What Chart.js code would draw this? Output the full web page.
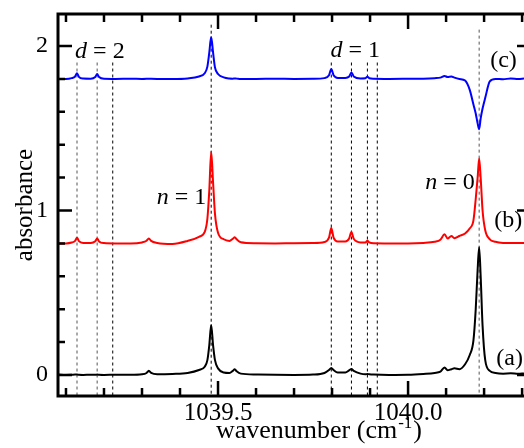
<!DOCTYPE html>
<html>
<head>
<meta charset="utf-8">
<script src="https://cdn.jsdelivr.net/npm/chart.js@4.4.1/dist/chart.umd.min.js"></script>
<style>
    html, body { margin: 0; padding: 0; background: #fff; }
    canvas { display: block; }
</style>
</head>
<body>
<canvas id="spectraChart" width="524" height="448"></canvas>
<script>
// --- data ---
const wavenumber = [
    1039.079, 1039.100, 1039.115, 1039.124, 1039.129, 1039.134, 1039.145, 1039.165,
    1039.177, 1039.182, 1039.187, 1039.200, 1039.230, 1039.270, 1039.300, 1039.312,
    1039.318, 1039.324, 1039.340, 1039.380, 1039.420, 1039.450, 1039.465, 1039.472,
    1039.477, 1039.482, 1039.487, 1039.492, 1039.500, 1039.515, 1039.530, 1039.539,
    1039.544, 1039.549, 1039.560, 1039.600, 1039.650, 1039.700, 1039.750, 1039.780,
    1039.792, 1039.798, 1039.804, 1039.815, 1039.835, 1039.845, 1039.851, 1039.857,
    1039.875, 1039.888, 1039.893, 1039.898, 1039.910, 1039.950, 1040.000, 1040.040,
    1040.070, 1040.085, 1040.096, 1040.104, 1040.114, 1040.122, 1040.135, 1040.150,
    1040.162, 1040.172, 1040.178, 1040.183, 1040.187, 1040.191, 1040.196, 1040.203,
    1040.215, 1040.230, 1040.250, 1040.270, 1040.290, 1040.305
];

// (a) black trace
const absorbanceA = [
    0.002, 0.000, 0.001, 0.002, 0.002, 0.001, 0.000, 0.001,
    0.001, 0.002, 0.001, 0.000, 0.001, 0.001, 0.004, 0.012,
    0.025, 0.012, 0.004, 0.006, 0.012, 0.030, 0.050, 0.090,
    0.180, 0.304, 0.180, 0.090, 0.040, 0.015, 0.012, 0.025,
    0.035, 0.022, 0.008, 0.003, 0.001, 0.000, 0.002, 0.012,
    0.030, 0.043, 0.030, 0.015, 0.015, 0.028, 0.036, 0.025,
    0.008, 0.004, 0.006, 0.004, 0.002, 0.000, 0.001, 0.006,
    0.012, 0.020, 0.045, 0.028, 0.035, 0.040, 0.035, 0.065,
    0.120, 0.210, 0.400, 0.640, 0.776, 0.600, 0.300, 0.090,
    0.025, 0.012, 0.008, 0.010, 0.007, 0.009
];

// (b) red trace
const absorbanceB = [
    0.800, 0.800, 0.805, 0.815, 0.835, 0.814, 0.803, 0.803,
    0.813, 0.830, 0.812, 0.802, 0.800, 0.800, 0.806, 0.816,
    0.830, 0.815, 0.803, 0.797, 0.815, 0.840, 0.870, 0.950,
    1.120, 1.357, 1.170, 0.980, 0.865, 0.825, 0.815, 0.828,
    0.837, 0.825, 0.807, 0.801, 0.800, 0.801, 0.802, 0.808,
    0.835, 0.894, 0.835, 0.812, 0.812, 0.830, 0.870, 0.828,
    0.806, 0.806, 0.816, 0.806, 0.801, 0.800, 0.800, 0.803,
    0.810, 0.822, 0.855, 0.830, 0.845, 0.832, 0.845, 0.860,
    0.890, 0.940, 1.070, 1.200, 1.317, 1.200, 1.000, 0.880,
    0.825, 0.810, 0.803, 0.802, 0.803, 0.802
];

// (c) blue trace
const absorbanceC = [
    1.800, 1.800, 1.805, 1.815, 1.835, 1.813, 1.803, 1.802,
    1.812, 1.830, 1.812, 1.801, 1.800, 1.801, 1.800, 1.801,
    1.802, 1.801, 1.800, 1.800, 1.803, 1.815, 1.835, 1.875,
    1.960, 2.055, 1.960, 1.870, 1.830, 1.810, 1.803, 1.802,
    1.803, 1.802, 1.800, 1.800, 1.801, 1.800, 1.801, 1.805,
    1.822, 1.860, 1.822, 1.806, 1.806, 1.815, 1.840, 1.815,
    1.803, 1.804, 1.814, 1.804, 1.801, 1.800, 1.801, 1.802,
    1.805, 1.808, 1.818, 1.812, 1.815, 1.808, 1.800, 1.790,
    1.735, 1.645, 1.590, 1.530, 1.494, 1.560, 1.620, 1.685,
    1.785, 1.800, 1.798, 1.803, 1.799, 1.803
];

// dashed guide lines
const guidePositions = [1039.129, 1039.182, 1039.223, 1039.482, 1039.798, 1039.851, 1039.893, 1039.919, 1040.187];
const guideTops = [1.90, 1.90, 1.90, 2.13, 1.90, 1.90, 1.90, 1.90, 2.10];
const guideColors = ["#555", "#555", "#000", "#000", "#000", "#000", "#000", "#000", "#555"];

// axes
const xRange = [1039.079, 1040.305];
const yRange = [-0.128, 2.195];
const xTicks = [1039.5, 1040.0];
const yTicks = [0, 1, 2];

// annotations
const noteItalic = ["d", "d", "n", "n", "", "", ""];
const noteText = [" = 2", " = 1", " = 1", " = 0", "(c)", "(b)", "(a)"];
const noteX = [1039.124, 1039.796, 1039.339, 1040.045, 1040.216, 1040.227, 1040.232];
const noteY = [1.925, 1.931, 1.040, 1.129, 1.874, 0.898, 0.061];

const serif = "'Liberation Serif', 'Times New Roman', serif";

function toPoints(ys) {
    return wavenumber.map((x, i) => ({ x: x, y: ys[i] }));
}

// frame with inward ticks, x title with superscript, and the text labels
const spectraFrame = {
    id: "spectraFrame",
    afterDraw(chart) {
        const ctx = chart.ctx;
        const area = chart.chartArea;
        const x = chart.scales.x;
        const y = chart.scales.y;
        ctx.save();
        ctx.strokeStyle = "#000";
        ctx.lineWidth = 3;
        ctx.beginPath();
        ctx.moveTo(area.left, area.top);
        ctx.lineTo(area.right, area.top);
        ctx.moveTo(area.left, area.top - 1.5);
        ctx.lineTo(area.left, area.bottom + 1.5);
        ctx.moveTo(area.left, area.bottom);
        ctx.lineTo(area.right, area.bottom);
        ctx.stroke();

        ctx.lineWidth = 2.5;
        ctx.beginPath();
        for (let k = Math.ceil(xRange[0] * 10); k <= Math.floor(xRange[1] * 10); k++) {
            const px = x.getPixelForValue(k / 10);
            const len = k % 5 === 0 ? 15 : 8;
            ctx.moveTo(px, area.bottom);
            ctx.lineTo(px, area.bottom - len);
            ctx.moveTo(px, area.top);
            ctx.lineTo(px, area.top + len);
        }
        for (let k = Math.ceil(yRange[0] * 5); k <= Math.floor(yRange[1] * 5); k++) {
            const py = y.getPixelForValue(k / 5);
            const major = k % 5 === 0;
            ctx.moveTo(area.left, py);
            ctx.lineTo(area.left + (major ? 14 : 7), py);
            if (major) {
                ctx.moveTo(area.right - 7, py);
                ctx.lineTo(area.right, py);
            }
        }
        ctx.stroke();

        // x title: wavenumber (cm^-1)
        ctx.fillStyle = "#000";
        ctx.textBaseline = "alphabetic";
        ctx.textAlign = "left";
        const big = "26px " + serif;
        const small = "17px " + serif;
        const partA = "wavenumber (cm";
        const partB = "-1";
        const partC = ")";
        ctx.font = big;
        const wA = ctx.measureText(partA).width;
        const wC = ctx.measureText(partC).width;
        ctx.font = small;
        const wB = ctx.measureText(partB).width;
        const total = wA + wB + wC + 2;
        let tx = (area.left + area.right) / 2 + 28 - total / 2;
        const ty = 438;
        ctx.font = big;
        ctx.fillText(partA, tx, ty);
        tx += wA + 1;
        ctx.font = small;
        ctx.fillText(partB, tx, ty - 10);
        tx += wB + 1;
        ctx.font = big;
        ctx.fillText(partC, tx, ty);

        // annotations
        for (let i = 0; i < noteText.length; i++) {
            let nx = x.getPixelForValue(noteX[i]);
            const ny = y.getPixelForValue(noteY[i]);
            if (noteItalic[i]) {
                ctx.font = "italic 24px " + serif;
                ctx.fillText(noteItalic[i], nx, ny);
                nx += ctx.measureText(noteItalic[i]).width;
            }
            ctx.font = "24px " + serif;
            ctx.fillText(noteText[i], nx, ny);
        }
        ctx.restore();
    }
};

document.addEventListener("DOMContentLoaded", function () {
    const ctxSpectra = document.getElementById("spectraChart");

    const guideSets = guidePositions.map((pos, i) => ({
        data: [{ x: pos, y: guideTops[i] }, { x: pos, y: yRange[0] }],
        borderColor: guideColors[i],
        borderWidth: 1,
        borderDash: [3, 3],
        pointRadius: 0,
        fill: false,
    }));

    new Chart(ctxSpectra, {
        type: "line",
        data: {
            datasets: [
                {
                    label: "(a)",
                    data: toPoints(absorbanceA),
                    borderColor: "#000000",
                    borderWidth: 2,
                    pointRadius: 0,
                    cubicInterpolationMode: "monotone",
                },
                {
                    label: "(b)",
                    data: toPoints(absorbanceB),
                    borderColor: "#ff0000",
                    borderWidth: 2,
                    pointRadius: 0,
                    cubicInterpolationMode: "monotone",
                },
                {
                    label: "(c)",
                    data: toPoints(absorbanceC),
                    borderColor: "#0000ff",
                    borderWidth: 2,
                    pointRadius: 0,
                    cubicInterpolationMode: "monotone",
                },
            ].concat(guideSets),
        },
        options: {
            responsive: false,
            animation: false,
            events: [],
            layout: { padding: { top: 14, right: 0, bottom: 0, left: 0 } },
            plugins: {
                legend: { display: false },
                tooltip: { enabled: false },
            },
            scales: {
                x: {
                    type: "linear",
                    min: xRange[0],
                    max: xRange[1],
                    afterBuildTicks: (scale) => {
                        scale.ticks = xTicks.map((v) => ({ value: v }));
                    },
                    afterFit: (scale) => {
                        scale.height = 52;
                        scale.paddingLeft = 0;
                        scale.paddingRight = 0;
                    },
                    grid: { display: false, drawTicks: false },
                    border: { display: false },
                    ticks: {
                        autoSkip: false,
                        maxRotation: 0,
                        padding: 2,
                        color: "#000",
                        font: { family: serif, size: 25 },
                        callback: (v) => Number(v).toFixed(1),
                    },
                },
                y: {
                    type: "linear",
                    min: yRange[0],
                    max: yRange[1],
                    afterBuildTicks: (scale) => {
                        scale.ticks = yTicks.map((v) => ({ value: v }));
                    },
                    afterFit: (scale) => {
                        scale.width = 58;
                        scale.paddingTop = 0;
                        scale.paddingBottom = 0;
                    },
                    grid: { display: false, drawTicks: false },
                    border: { display: false },
                    ticks: {
                        autoSkip: false,
                        padding: 10,
                        color: "#000",
                        font: { family: serif, size: 24 },
                        callback: (v) => String(v),
                    },
                    title: {
                        display: true,
                        text: "absorbance",
                        color: "#000",
                        font: { family: serif, size: 25 },
                        padding: { top: 10, bottom: 0 },
                    },
                },
            },
        },
        plugins: [spectraFrame],
    });
});
</script>
</body>
</html>
